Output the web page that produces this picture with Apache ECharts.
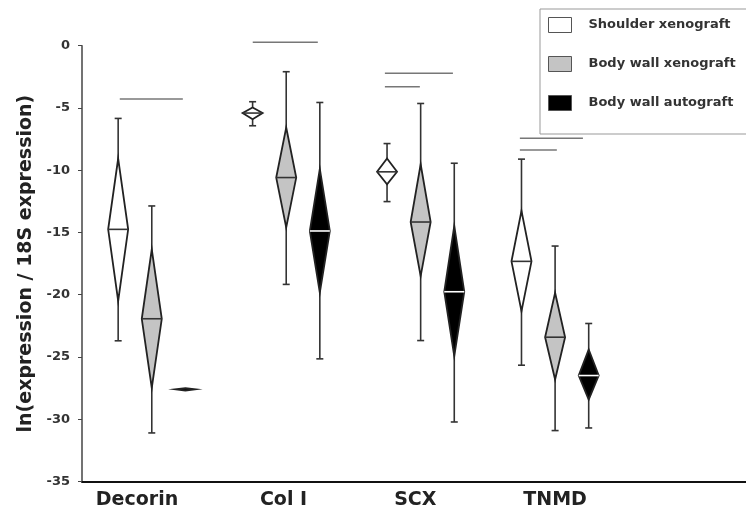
<!DOCTYPE html>
<html>
<head>
<meta charset="utf-8">
<script src="https://cdn.jsdelivr.net/npm/echarts@6/dist/echarts.min.js"></script>
<style>
html, body { margin: 0; padding: 0; background: #fff; }
#chart { width: 746px; height: 515px; }
</style>
</head>
<body>
<div id="chart"></div>
<script>
const genes = ['Decorin', 'Col I', 'SCX', 'TNMD'];
// where the gene names sit under the axis (x units, group centre = index)
const geneLabelPos = [-0.11, 0.98, 1.96, 3.0];

const groupNames = ['Shoulder xenograft', 'Body wall xenograft', 'Body wall autograft'];

// each row: [whisker low, diamond low, mean, diamond high, whisker high]
const shoulder = [
    [-23.7, -20.5, -14.75, -9.06, -5.84],
    [-6.43, -5.9, -5.41, -4.96, -4.5],
    [-12.52, -11.13, -10.13, -9.06, -7.86],
    [-25.66, -21.32, -17.32, -13.27, -9.11]
];
const bodyWallXeno = [
    [-31.1, -27.48, -21.93, -16.36, -12.87],
    [-19.17, -14.6, -10.59, -6.57, -2.09],
    [-23.68, -18.5, -14.16, -9.52, -4.64],
    [-30.91, -26.81, -23.41, -19.84, -16.09]
];
const bodyWallAuto = [
    [-27.6, -27.7, -27.6, -27.5, -27.6],
    [-25.15, -19.84, -14.88, -9.9, -4.56],
    [-30.22, -24.94, -19.76, -14.48, -9.44],
    [-30.7, -28.42, -26.49, -24.4, -22.31]
];

// significance bars: start, end (x units) and height
const sigStart = [-0.238, 0.751, 1.734, 1.734, 2.738, 2.738];
const sigEnd = [0.231, 1.235, 2.24, 1.994, 3.207, 3.013];
const sigY = [-4.28, 0.27, -2.22, -3.3, -7.44, -8.38];

const yTicks = [0, -5, -10, -15, -20, -25, -30, -35];

const groupOffset = [-0.25, 0, 0.25];
const fills = ['#ffffff', '#c4c4c4', '#000000'];
const meanColors = ['#333', '#333', '#fff'];

const renderDiamond = (fill, meanColor) => (params, api) => {
    const x = api.value(0);
    const p = v => api.coord([x, v]);
    const wl = p(api.value(1)), dl = p(api.value(2)), m = p(api.value(3));
    const dh = p(api.value(4)), wh = p(api.value(5));
    const cx = m[0];
    const hw = 10, cap = 3.5;
    const line = (x1, y1, x2, y2, color) => ({
        type: 'line',
        shape: { x1, y1, x2, y2 },
        style: { stroke: color, lineWidth: 1.6 }
    });
    const children = [
        line(cx, wl[1], cx, wh[1], '#333'),
        line(cx - cap, wl[1], cx + cap, wl[1], '#333'),
        line(cx - cap, wh[1], cx + cap, wh[1], '#333'),
        {
            type: 'polygon',
            shape: { points: [[cx, dh[1]], [cx + hw, m[1]], [cx, dl[1]], [cx - hw, m[1]]] },
            style: { fill, stroke: '#222', lineWidth: 1.8 }
        }
    ];
    // a flat diamond is drawn as a plain bar, no mean line
    if (dl[1] - dh[1] > 4) children.push(line(cx - hw, m[1], cx + hw, m[1], meanColor));
    return { type: 'group', children };
};

const groups = [shoulder, bodyWallXeno, bodyWallAuto];

const diamondSeries = groups.map((rows, g) => ({
    name: groupNames[g],
    type: 'custom',
    renderItem: renderDiamond(fills[g], meanColors[g]),
    itemStyle: { color: fills[g], borderColor: '#555' },
    encode: { x: 0, y: [1, 2, 3, 4, 5] },
    data: rows.map((r, i) => [i + groupOffset[g], ...r]),
    z: 3
}));

const sigSeries = {
    name: 'sig',
    type: 'custom',
    renderItem: (params, api) => {
        const a = api.coord([api.value(0), api.value(2)]);
        const b = api.coord([api.value(1), api.value(2)]);
        return {
            type: 'line',
            shape: { x1: a[0], y1: a[1], x2: b[0], y2: b[1] },
            style: { stroke: '#777', lineWidth: 1.5 }
        };
    },
    data: sigY.map((y, i) => [sigStart[i], sigEnd[i], y]),
    z: 2
};

const myChart = echarts.init(document.querySelector('#chart'));

myChart.setOption({
    animation: false,
    grid: { left: 82, right: 0, top: 45.7, bottom: 33.5 },
    legend: {
        orient: 'vertical',
        left: 540,
        top: 9,
        padding: [8, 12, 23, 8],
        itemGap: 23,
        itemWidth: 23,
        itemHeight: 15,
        backgroundColor: '#fff',
        borderColor: '#999',
        borderWidth: 1,
        icon: 'rect',
        textStyle: {
            fontFamily: 'DejaVu Sans',
            fontWeight: 'bold',
            fontSize: 13,
            color: '#333',
            padding: [0, 0, 0, 12]
        },
        data: groupNames.map((name, g) => ({
            name,
            itemStyle: { color: fills[g], borderColor: '#555', borderWidth: 1 }
        }))
    },
    xAxis: {
        type: 'value',
        min: -0.519,
        max: 4.42,
        splitLine: { show: false },
        axisTick: { show: false },
        axisLine: { onZero: false, lineStyle: { color: '#111', width: 2 } },
        axisLabel: {
            customValues: geneLabelPos,
            formatter: v => genes[geneLabelPos.indexOf(v)] || '',
            fontFamily: 'DejaVu Sans',
            fontWeight: 'bold',
            fontSize: 19,
            color: '#222',
            margin: 9
        }
    },
    yAxis: {
        type: 'value',
        min: -35,
        max: 0,
        interval: 5,
        splitLine: { show: false },
        axisLine: { show: true, onZero: false, lineStyle: { color: '#444', width: 1.5 } },
        axisTick: { show: true, inside: false, length: 4, lineStyle: { color: '#444' } },
        axisLabel: {
            customValues: yTicks,
            fontFamily: 'DejaVu Sans',
            fontWeight: 'bold',
            fontSize: 13,
            color: '#333',
            margin: 12
        },
        name: 'ln(expression / 18S expression)',
        nameLocation: 'middle',
        nameGap: 40,
        nameTextStyle: {
            fontFamily: 'DejaVu Sans',
            fontWeight: 'bold',
            fontSize: 19,
            color: '#222'
        }
    },
    series: [...diamondSeries, sigSeries]
});
</script>
</body>
</html>
